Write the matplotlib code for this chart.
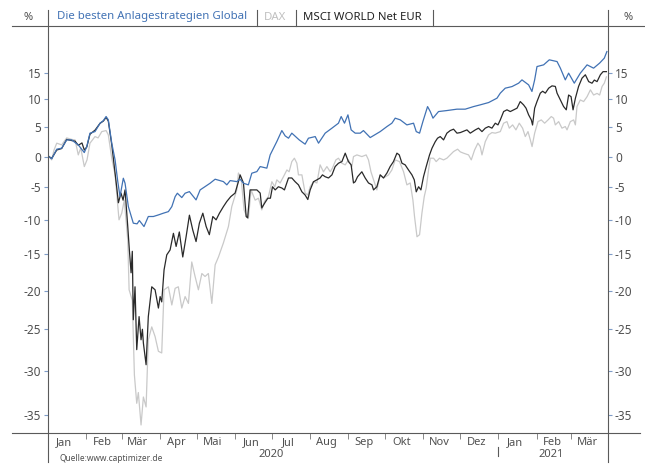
import pandas as pd
import matplotlib
matplotlib.use("Agg")
import matplotlib.pyplot as plt
from matplotlib.lines import Line2D
from matplotlib.ticker import FixedLocator, NullLocator, NullFormatter, FixedFormatter
import matplotlib.dates as mdates

START = pd.Timestamp("2020-01-01")

# --- data: days since 2020-01-01, performance in % -------------------------
strat_days = [0.8, 3.0, 7.1, 11.1, 15.2, 19.3, 22.0, 24.6, 29.5, 31.5,
              34.1, 38.2, 42.3, 45.0, 47.2, 49.0, 51.8, 54.5, 56.7, 58.5,
              61.2, 62.6, 65.3, 69.3, 72.4, 74.2, 78.0, 81.5, 85.6, 89.7,
              93.7, 97.8, 100.6, 103.3, 105.1, 108.7, 111.4, 114.9, 120.3, 123.6,
              127.6, 131.7, 135.8, 142.5, 145.3, 148.0, 153.4, 156.1, 158.8, 162.8,
              165.6, 169.7, 172.4, 177.8, 180.5, 185.9, 190.0, 192.7, 195.4, 198.1,
              204.1, 208.9, 211.6, 217.1, 219.8, 225.2, 230.7, 236.0, 238.2, 240.9,
              243.7, 246.3, 249.6, 253.7, 256.3, 261.8, 269.9, 275.4, 279.4, 282.1,
              286.2, 291.6, 297.0, 299.2, 301.9, 304.6, 308.4, 310.6, 312.8, 317.3,
              324.1, 332.3, 339.0, 345.8, 351.2, 358.0, 364.8, 367.5, 371.5, 377.0,
              382.4, 385.1, 390.5, 393.2, 395.4, 397.3, 402.7, 407.3, 413.6, 416.3,
              420.3, 423.0, 427.6, 432.5, 438.0, 443.3, 448.2, 452.0, 454.1]
strat_pct = [0.0, -0.38, 1.24, 1.41, 2.82, 2.82, 2.36, 1.97, 0.67, 1.68,
             3.98, 4.25, 5.72, 6.18, 6.90, 6.31, 2.26, -0.55, -4.08, -6.45,
             -3.54, -4.34, -8.0, -10.5, -10.6, -10.1, -11.0, -9.5, -9.5, -9.26,
             -9.0, -8.76, -8.0, -6.45, -5.92, -6.6, -5.92, -5.67, -6.96, -5.4,
             -4.88, -4.34, -3.70, -4.08, -4.6, -3.92, -4.08, -3.70, -4.34, -4.6,
             -2.73, -2.47, -1.65, -1.91, 0.28, 2.53, 4.43, 3.51, 3.11, 3.98,
             2.82, 2.09, 3.11, 3.39, 2.26, 3.98, 4.85, 5.72, 6.90, 5.72,
             7.2, 4.55, 3.98, 3.98, 4.43, 3.22, 4.25, 5.13, 5.72, 6.61,
             6.31, 5.42, 5.72, 4.25, 3.98, 6.01, 8.69, 7.79, 6.61, 7.79,
             7.97, 8.22, 8.22, 8.69, 9.00, 9.42, 10.22, 11.15, 12.07, 12.37,
             13.01, 13.63, 12.69, 11.46, 13.63, 16.18, 16.51, 17.49, 17.15, 15.87,
             13.63, 14.91, 13.01, 14.91, 16.51, 15.87, 16.85, 17.82, 19.12]

msci_days = [0.8, 3.0, 7.1, 11.1, 15.2, 19.3, 22.0, 24.6, 27.6, 29.5,
             31.5, 34.1, 38.2, 42.3, 45.0, 47.2, 49.0, 51.8, 53.1, 55.9,
             57.2, 59.3, 61.0, 62.6, 64.8, 66.1, 67.5, 68.5, 69.3, 70.7,
             72.1, 74.0, 75.6, 76.7, 77.5, 79.7, 81.5, 84.3, 87.0, 89.7,
             91.1, 92.4, 94.3, 96.5, 99.2, 101.9, 104.1, 106.7, 109.5, 112.2,
             114.9, 117.6, 120.3, 123.0, 125.8, 128.5, 131.1, 133.9, 136.6, 139.3,
             142.5, 145.3, 148.5, 152.0, 154.7, 156.1, 158.8, 161.0, 162.2, 164.2,
             165.6, 169.7, 172.4, 173.7, 175.9, 178.6, 180.7, 182.4, 184.6, 187.2,
             190.0, 192.1, 195.4, 198.1, 200.8, 203.5, 206.3, 208.9, 211.1, 213.0,
             215.7, 218.5, 221.1, 223.0, 225.2, 227.9, 230.7, 233.3, 236.0, 238.8,
             241.5, 244.1, 246.3, 248.2, 249.6, 251.5, 255.0, 257.7, 260.4, 263.2,
             264.5, 267.2, 269.9, 272.6, 275.4, 278.0, 280.7, 283.5, 285.4, 287.6,
             290.2, 292.9, 295.7, 297.6, 299.2, 301.1, 303.0, 305.1, 307.3, 310.0,
             312.0, 314.6, 316.5, 318.7, 321.4, 324.1, 326.8, 329.5, 332.3, 335.0,
             340.4, 343.1, 347.2, 349.8, 352.6, 355.3, 358.0, 360.7, 363.4, 365.6,
             367.5, 370.2, 372.9, 375.6, 378.3, 381.1, 383.7, 386.4, 388.4, 390.5,
             392.7, 393.7, 395.4, 397.3, 400.0, 401.9, 404.1, 406.8, 409.5, 412.2,
             413.6, 416.3, 418.9, 421.1, 423.0, 425.0, 426.6, 428.5, 431.1, 433.9,
             436.6, 439.3, 442.0, 443.9, 446.1, 448.8, 451.0, 453.7]
msci_pct = [0.0, -0.3, 1.1, 1.35, 2.9, 2.7, 2.6, 1.9, 2.3, 1.1,
            1.6, 3.8, 4.5, 5.7, 6.1, 6.75, 6.1, 2.0, -0.27, -5.1,
            -7.4, -5.9, -7.0, -5.4, -11.0, -14.4, -17.6, -14.6, -23.8, -19.5,
            -27.5, -23.4, -26.3, -25.0, -26.7, -29.3, -23.4, -19.5, -19.9, -22.3,
            -20.8, -21.5, -17.2, -15.1, -14.4, -12.0, -13.9, -11.8, -15.4, -12.5,
            -9.3, -11.5, -13.2, -10.5, -9.0, -11.0, -12.2, -9.5, -10.0, -9.0,
            -8.0, -7.2, -6.45, -5.9, -4.1, -3.0, -4.3, -9.5, -9.7, -5.4,
            -5.4, -5.4, -5.9, -8.2, -7.5, -6.7, -6.7, -4.9, -5.4, -4.9,
            -5.1, -5.4, -3.5, -3.5, -4.1, -4.6, -5.7, -6.2, -6.9, -5.4,
            -4.1, -3.8, -3.5, -3.0, -3.3, -3.5, -3.0, -1.65, -1.1, -0.83,
            0.57, -0.83, -1.37, -4.3, -4.1, -3.3, -2.5, -3.5, -4.3, -4.6,
            -5.4, -4.9, -3.0, -3.5, -2.7, -1.65, -0.83, 0.57, 0.28, -1.1,
            -1.37, -2.2, -3.0, -3.8, -5.7, -4.9, -5.4, -3.3, -1.65, 0.28,
            1.41, 2.5, 3.11, 3.39, 2.82, 3.98, 4.43, 4.67, 3.98, 4.08,
            4.55, 3.98, 4.55, 4.85, 4.25, 4.85, 5.13, 4.85, 5.72, 5.42,
            6.31, 7.79, 8.1, 7.79, 8.1, 8.4, 9.6, 9.0, 8.4, 7.2,
            6.3, 5.4, 8.4, 9.6, 11.15, 11.5, 11.15, 12.07, 12.5, 12.4,
            11.15, 9.9, 8.7, 8.1, 10.8, 10.5, 8.1, 10.2, 12.4, 13.96,
            14.6, 13.3, 13.0, 13.6, 13.3, 14.6, 15.2, 15.2]

dax_days = [0.8, 3.0, 4.9, 7.1, 11.1, 15.2, 19.3, 22.0, 24.6, 26.6,
            29.5, 31.7, 34.1, 38.2, 40.7, 43.7, 47.2, 49.0, 51.8, 54.5,
            57.7, 59.9, 62.0, 64.8, 65.9, 68.5, 70.2, 72.1, 73.4, 75.6,
            77.5, 79.7, 81.5, 84.3, 87.0, 89.7, 92.4, 94.3, 97.8, 100.6,
            103.3, 105.9, 108.7, 111.4, 114.1, 116.8, 119.5, 122.2, 125.0, 127.6,
            130.3, 133.1, 135.8, 138.5, 142.5, 146.6, 149.3, 153.4, 154.7, 156.9,
            159.3, 161.5, 162.8, 165.0, 168.3, 171.0, 173.7, 175.9, 179.1, 181.9,
            184.3, 185.9, 188.6, 191.3, 194.1, 195.9, 198.1, 200.2, 202.2, 203.5,
            206.3, 208.9, 211.1, 213.0, 215.7, 218.5, 221.1, 223.8, 226.6, 229.3,
            231.1, 233.9, 236.0, 238.8, 241.5, 244.1, 246.9, 248.2, 251.0, 255.0,
            258.5, 260.4, 262.4, 264.5, 267.2, 269.9, 272.6, 276.7, 279.4, 282.1,
            285.6, 288.9, 291.6, 294.3, 296.5, 297.8, 299.8, 301.9, 303.8, 305.7,
            307.3, 309.2, 310.6, 313.3, 315.4, 318.1, 321.4, 324.1, 326.8, 329.5,
            332.8, 335.0, 337.6, 341.7, 343.9, 346.6, 349.3, 351.2, 352.6, 355.3,
            358.0, 360.7, 363.4, 367.5, 370.2, 372.9, 374.8, 377.5, 380.2, 382.9,
            385.6, 387.8, 390.0, 391.9, 393.3, 395.4, 398.1, 400.8, 403.5, 406.3,
            408.9, 410.8, 412.2, 414.9, 417.6, 420.3, 421.7, 424.4, 427.1, 428.5,
            429.8, 432.5, 435.2, 438.0, 440.7, 443.3, 446.1, 448.2, 450.2, 452.0,
            453.7]
dax_pct = [0.0, -0.55, 1.1, 2.26, 1.97, 3.16, 2.9, 2.8, 0.28, 1.46,
           -1.65, -0.55, 2.26, 3.39, 3.16, 4.25, 4.43, 3.68, -0.27, -3.0,
           -10.0, -9.0, -7.0, -13.0, -19.9, -21.3, -30.5, -33.7, -32.5, -36.05,
           -33.0, -34.1, -26.3, -24.7, -25.9, -27.7, -27.9, -19.9, -19.5, -21.9,
           -19.7, -19.5, -22.3, -20.8, -21.7, -16.1, -18.1, -19.9, -17.7, -18.1,
           -17.7, -21.7, -16.5, -15.4, -13.4, -11.0, -8.0, -5.4, -2.7, -3.5,
           -8.5, -9.5, -9.8, -5.4, -7.0, -6.7, -8.5, -7.2, -6.45, -4.1,
           -4.9, -3.8, -4.3, -3.3, -2.2, -2.5, -0.83, -0.27, -1.1, -3.0,
           -3.0, -5.9, -6.2, -4.9, -4.1, -4.3, -1.37, -2.5, -1.65, -2.5,
           -1.9, -0.55, -0.27, -1.1, -1.37, -0.55, -1.65, 0.0, 0.28, 0.0,
           0.28, -0.55, -2.5, -3.8, -5.4, -3.0, -3.5, -3.0, -2.2, -0.55,
           -0.83, -2.5, -4.6, -4.3, -7.0, -9.5, -12.5, -12.2, -9.0, -6.45,
           -5.1, -2.2, -0.27, -0.27, -0.83, -0.27, -0.55, -0.27, 0.28, 0.84,
           1.24, 0.79, 0.57, 0.28, -0.55, 1.1, 2.26, 1.68, 0.28, 2.53,
           3.68, 4.08, 3.98, 4.25, 5.72, 6.0, 4.85, 5.42, 4.55, 5.72,
           4.85, 3.39, 4.25, 2.82, 1.68, 3.98, 6.0, 6.3, 5.72, 6.3,
           6.9, 6.6, 5.42, 6.0, 4.85, 5.13, 4.55, 6.0, 6.3, 5.42,
           8.7, 9.9, 9.6, 10.5, 11.76, 10.8, 11.1, 10.8, 12.4, 13.0,
           14.2]

y_ticks = [15, 10, 5, 0, -5, -10, -15, -20, -25, -30, -35]
month_labels = ["Jan", "Feb", "Mär", "Apr", "Mai", "Jun", "Jul", "Aug",
                "Sep", "Okt", "Nov", "Dez", "Jan", "Feb", "Mär"]
years = ["2020", "2021"]
series_names = ["Die besten Anlagestrategien Global", "DAX", "MSCI WORLD Net EUR"]

BLUE = "#4172b4"
DAX_C = "#c9c9c9"
MSCI_C = "#2a2a2a"
TXT = "#505050"
AXC = "#5a5a5a"

W, H = 645, 465
plt.rcParams["font.family"] = ["Noto Sans", "DejaVu Sans"]
fig = plt.figure(figsize=(W / 100, H / 100), dpi=100)


def fx(px):
    return px / W


def fy(py):
    return 1 - py / H


def fline(x0, y0, x1, y1, color=AXC, lw=0.8):
    fig.add_artist(Line2D([fx(x0), fx(x1)], [fy(y0), fy(y1)],
                          transform=fig.transFigure, color=color, lw=lw))


L, R, T, B = 48, 608, 26, 433
ax = fig.add_axes([fx(L), fy(B), fx(R) - fx(L), fy(T) - fy(B)])


def to_dates(days):
    return START + pd.to_timedelta(days, unit="D")


# index level = 100 + pct on a log axis (equal % steps are not equal pixels)
ax.plot(to_dates(dax_days), [100 + v for v in dax_pct], color=DAX_C, lw=0.9, zorder=2)
ax.plot(to_dates(msci_days), [100 + v for v in msci_pct], color=MSCI_C, lw=0.9, zorder=3)
ax.plot(to_dates(strat_days), [100 + v for v in strat_pct], color=BLUE, lw=0.9, zorder=4)

ax.set_yscale("log")
ax.set_ylim(63.1, 124.3)
ax.yaxis.set_major_locator(FixedLocator([100 + t for t in y_ticks]))
ax.yaxis.set_minor_locator(NullLocator())
ax.yaxis.set_minor_formatter(NullFormatter())
ax.set_yticklabels([str(t) for t in y_ticks])
ax.tick_params(axis="y", which="major", left=True, right=True, labelleft=True,
               labelright=True, length=3, width=0.8, color="#7f9cc8",
               labelsize=8.5, labelcolor=TXT, pad=2)

ax.set_xlim(START, pd.Timestamp("2021-03-31"))
month_starts = pd.date_range("2020-02-01", "2021-03-01", freq="MS")
month_mids = pd.date_range("2020-01-01", "2021-03-01", freq="MS") + pd.Timedelta(days=13)
ax.xaxis.set_major_locator(FixedLocator(mdates.date2num(month_starts)))
ax.xaxis.set_major_formatter(NullFormatter())
ax.xaxis.set_minor_locator(FixedLocator(mdates.date2num(month_mids)))
ax.xaxis.set_minor_formatter(FixedFormatter(month_labels))
ax.tick_params(axis="x", which="major", length=4, width=0.7, color="#888888",
               direction="out")
ax.tick_params(axis="x", which="minor", length=0, labelsize=8, labelcolor=TXT, pad=3)

for s in ax.spines.values():
    s.set_visible(False)

# frame lines
fline(12, T, 645, T)            # header line
fline(12, B, 640, B)            # x axis line
fline(L, 10, L, 462)            # left axis
fline(R, 10, R, 462)            # right axis
fline(498, 447, 498, 456)       # year separator

# header
fig.text(fx(28), fy(17), "%", ha="center", va="center", fontsize=8, color=TXT)
fig.text(fx(628), fy(17), "%", ha="center", va="center", fontsize=8, color=TXT)
hx = [57, 264, 303]
hcol = [BLUE, "#c0c0c0", "#222222"]
for x, name, c in zip(hx, series_names, hcol):
    fig.text(fx(x), fy(17), name, ha="left", va="center", fontsize=8.2, color=c)
for x in [257, 296, 433]:
    fline(x, 10, x, T)

# years and source
fig.text(fx(271), fy(454), years[0], ha="center", va="center", fontsize=8, color=TXT)
fig.text(fx(551), fy(454), years[1], ha="center", va="center", fontsize=8, color=TXT)
fig.text(fx(60), fy(458), "Quelle:www.captimizer.de", ha="left", va="center",
         fontsize=6, color=TXT)

fig.savefig("out.png", dpi=100)
